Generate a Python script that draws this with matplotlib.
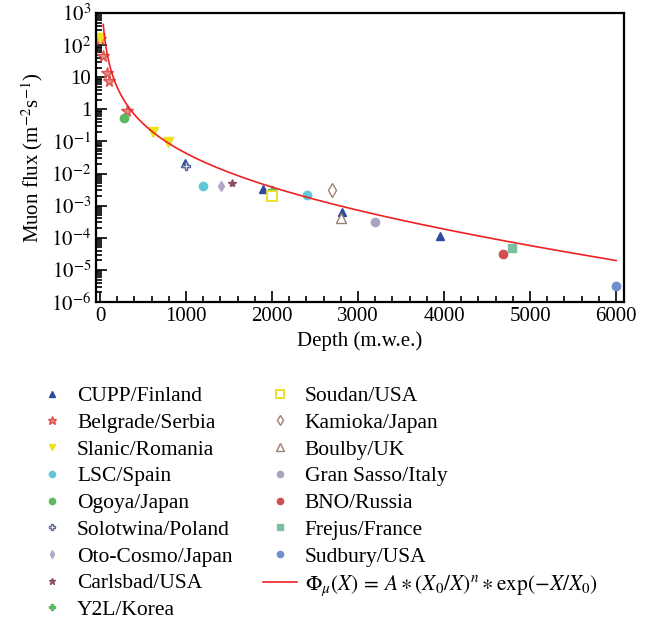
import numpy as np
import matplotlib
matplotlib.use('Agg')
import matplotlib.pyplot as plt
from matplotlib.ticker import FixedLocator, MultipleLocator, LogLocator, NullFormatter

plt.rcParams['font.family'] = ['Liberation Serif', 'DejaVu Serif']
plt.rcParams['mathtext.fontset'] = 'stix'

# laboratory data: depth (m.w.e.) and muon flux (m^-2 s^-1)
cupp_x = [990, 1895, 2814, 3953]
cupp_y = [0.021, 0.0033, 6.3e-4, 1.1e-4]
belgrade_x = [5, 35, 81, 105, 314]
belgrade_y = [150, 46, 13.5, 7.6, 0.89]
slanic_x = [5, 616, 791]
slanic_y = [165, 0.19, 0.095]
lsc_x = [1198, 2407]
lsc_y = [0.0041, 0.0021]
ogoya_x = [279]
ogoya_y = [0.53]
solotwina_x = [1000]
solotwina_y = [0.017]
otocosmo_x = [1407]
otocosmo_y = [0.0041]
carlsbad_x = [1535]
carlsbad_y = [0.005]
y2l_x = [2000]
y2l_y = [0.0031]
soudan_x = [2000]
soudan_y = [0.002]
kamioka_x = [2698]
kamioka_y = [0.0031]
boulby_x = [2802]
boulby_y = [4.1e-4]
gransasso_x = [3198]
gransasso_y = [3.1e-4]
bno_x = [4686]
bno_y = [3.1e-5]
frejus_x = [4791]
frejus_y = [4.8e-5]
sudbury_x = [6000]
sudbury_y = [3.2e-6]

# fit parameters
A = 0.0189
X0 = 1700.0
n = 2.65

fig = plt.figure(figsize=(6.51, 6.29), dpi=100)
ax = fig.add_axes([0.1475, 0.5199, 0.811, 0.4594])

ax.plot(cupp_x, cupp_y, '^', color='#2b4aa0', ms=6, ls='none', label='CUPP/Finland')
ax.plot(belgrade_x, belgrade_y, '*', color='#d9534f', mfc='#e88a86', ms=8.5, ls='none', label='Belgrade/Serbia')
ax.plot(slanic_x, slanic_y, 'v', color='#eee21e', ms=6.5, ls='none', label='Slanic/Romania')
ax.plot(lsc_x, lsc_y, 'o', color='#62c8d8', ms=6, ls='none', label='LSC/Spain')
ax.plot(ogoya_x, ogoya_y, 'o', color='#5cb85c', ms=6, ls='none', label='Ogoya/Japan')
ax.plot(solotwina_x, solotwina_y, 'P', mfc='white', mec='#5a6a9a', ms=6, ls='none', label='Solotwina/Poland')
ax.plot(otocosmo_x, otocosmo_y, 'd', color='#b0a8c8', ms=5, ls='none', label='Oto-Cosmo/Japan')
ax.plot(carlsbad_x, carlsbad_y, '*', color='#8a5060', ms=6, ls='none', label='Carlsbad/USA')
ax.plot(y2l_x, y2l_y, 'P', color='#5cb85c', ms=6, ls='none', label='Y2L/Korea')
ax.plot(soudan_x, soudan_y, 's', mfc='white', mec='#e8e020', mew=1.3, ms=7, ls='none', label='Soudan/USA')
ax.plot(kamioka_x, kamioka_y, 'd', mfc='white', mec='#a08070', ms=7, ls='none', label='Kamioka/Japan')
ax.plot(boulby_x, boulby_y, '^', mfc='white', mec='#9a8070', ms=7, ls='none', label='Boulby/UK')
ax.plot(gransasso_x, gransasso_y, 'o', color='#a8a4c0', ms=6, ls='none', label='Gran Sasso/Italy')
ax.plot(bno_x, bno_y, 'o', color='#d05050', ms=6, ls='none', label='BNO/Russia')
ax.plot(frejus_x, frejus_y, 's', color='#7cc0a0', ms=6, ls='none', label='Frejus/France')
ax.plot(sudbury_x, sudbury_y, 'o', color='#6f8fcf', ms=6, ls='none', label='Sudbury/USA')

X = np.linspace(38, 6000, 600)
phi = A * (X0 / X) ** n * np.exp(-X / X0)
ax.plot(X, phi, '-', color='#ee2222', lw=1.2,
        label=r'$\Phi_\mu(X)\,=\,A\ast(X_0/X)^n\ast\exp(-X/X_0)$')

ax.set_yscale('log')
ax.set_xlim(-46, 6092)
ax.set_ylim(1e-6, 1e3)

ax.xaxis.set_major_locator(MultipleLocator(1000))
ax.xaxis.set_minor_locator(MultipleLocator(200))
yt = [1e3, 1e2, 1e1, 1, 1e-1, 1e-2, 1e-3, 1e-4, 1e-5, 1e-6]
ylab = [r'$10^3$', r'$10^2$', '10', '1', r'$10^{-1}$', r'$10^{-2}$', r'$10^{-3}$',
        r'$10^{-4}$', r'$10^{-5}$', r'$10^{-6}$']
ax.yaxis.set_major_locator(FixedLocator(yt))
ax.set_yticklabels(ylab)
ax.yaxis.set_minor_locator(LogLocator(base=10, subs=np.arange(2, 10), numticks=20))
ax.yaxis.set_minor_formatter(NullFormatter())

ax.tick_params(which='both', direction='in', top=False, right=False, labelsize=15, width=1.2)
ax.tick_params(which='major', length=8)
ax.tick_params(which='minor', length=4)
for s in ax.spines.values():
    s.set_linewidth(1.6)

ax.set_xlabel('Depth (m.w.e.)', fontsize=15)
ax.set_ylabel(r'Muon flux (m$^{-2}$s$^{-1}$)', fontsize=15)

fig.legend(loc='upper left', bbox_to_anchor=(35 / 651, 1 - 386 / 629), ncol=2,
           frameon=False, fontsize=15.5, handlelength=1.6, handletextpad=0.35,
           columnspacing=1.4, labelspacing=0.31, borderpad=0, borderaxespad=0,
           markerscale=0.75)

fig.savefig('out.png', dpi=100)
